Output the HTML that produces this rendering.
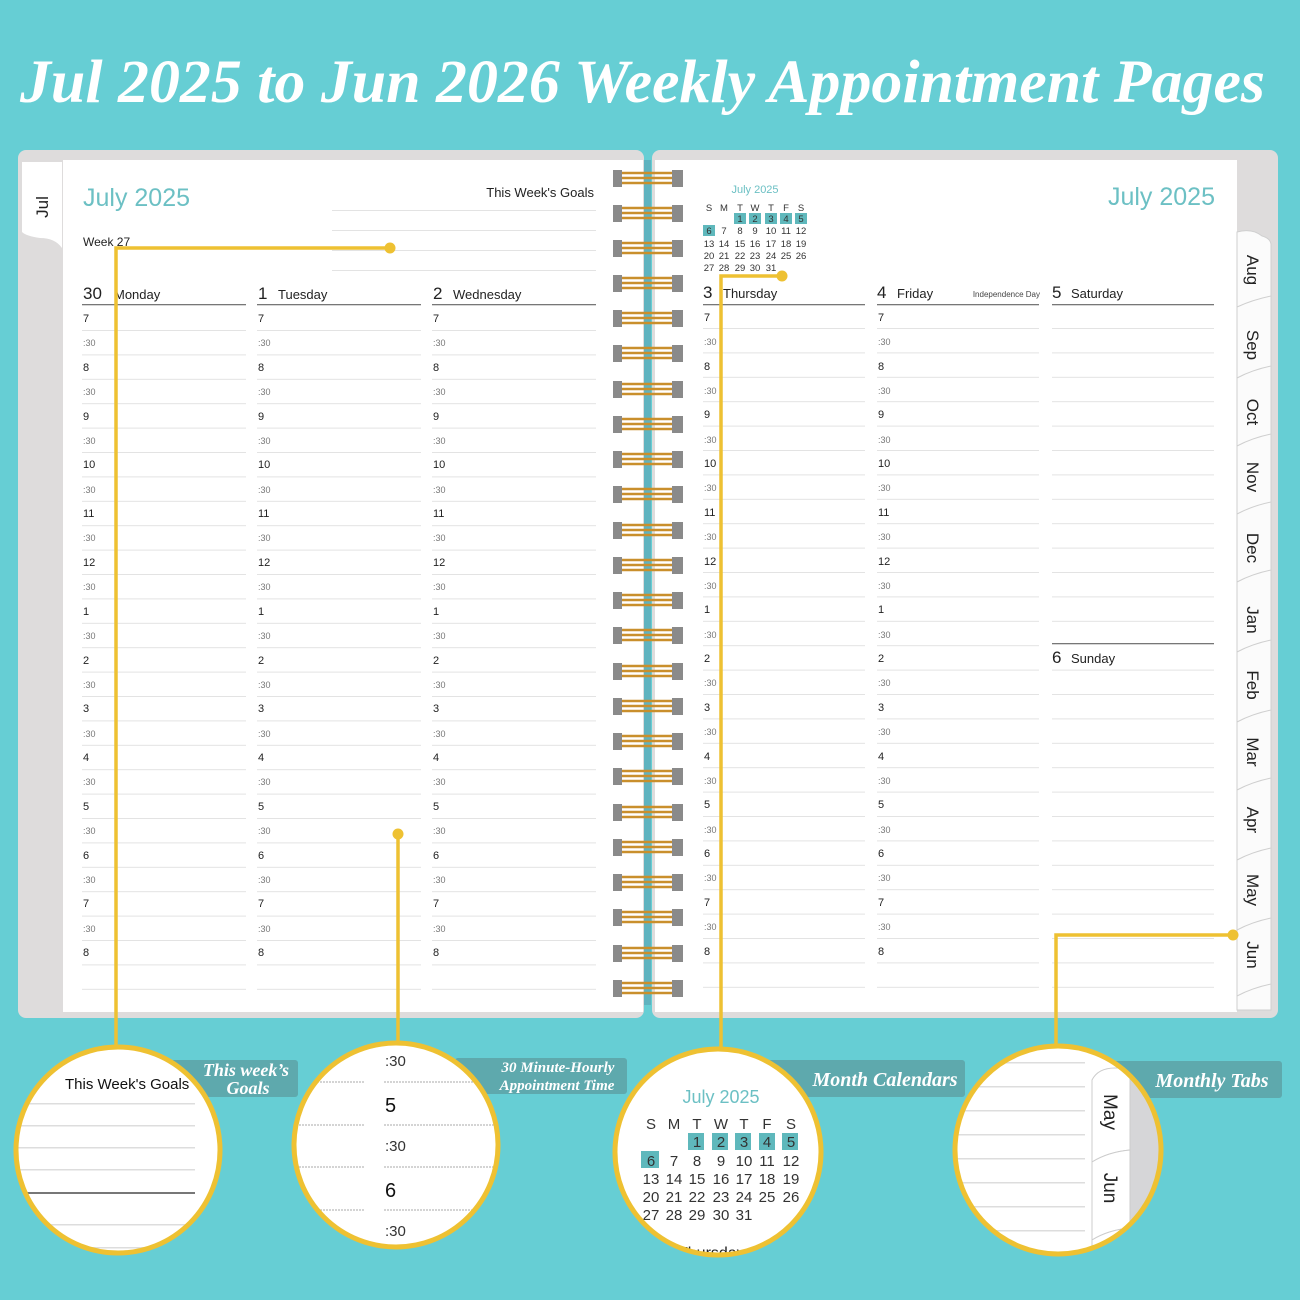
<!DOCTYPE html>
<html><head><meta charset="utf-8"><style>
html,body{margin:0;padding:0;background:#66ced4;}
svg{display:block}
.h{font:11px "Liberation Sans",sans-serif;fill:#222}
.m{font:9px "Liberation Sans",sans-serif;fill:#777}
.d{font:14px "Liberation Sans",sans-serif;fill:#222}
.dn{font:17px "Liberation Sans",sans-serif;fill:#222}
.cal{font:9.5px "Liberation Sans",sans-serif;fill:#333;text-anchor:middle}
.tab{font:17px "Liberation Sans",sans-serif;fill:#222}
.lab{font:italic bold 19px "Liberation Serif",serif;fill:#fff}
</style></head><body>
<svg width="1300" height="1300" viewBox="0 0 1300 1300" xmlns="http://www.w3.org/2000/svg">
<defs>
<pattern id="ln" x="0" y="330" width="10" height="24.4" patternUnits="userSpaceOnUse"><rect x="0" y="0" width="10" height="1" fill="#e3e3e3"/></pattern>
<pattern id="ln2" x="0" y="328" width="10" height="24.4" patternUnits="userSpaceOnUse"><rect x="0" y="0" width="10" height="1" fill="#e3e3e3"/></pattern>
</defs>
<rect width="1300" height="1300" fill="#66ced4"/>
<text x="20" y="102" textLength="1245" lengthAdjust="spacingAndGlyphs" style="font:italic bold 61px 'Liberation Serif',serif;fill:#fff">Jul 2025 to Jun 2026 Weekly Appointment Pages</text>

<!-- left page -->
<rect x="18" y="150" width="626" height="868" rx="8" fill="#dedcdc"/>
<rect x="63" y="160" width="580" height="852" fill="#fff"/>
<path d="M22 162 H62 V248 Q55 238 40 238 Q26 236 22 232 Z" fill="#fff"/>
<text class="tab" transform="translate(48,207) rotate(-90)" x="0" y="0" text-anchor="middle">Jul</text>
<text x="83" y="206" style="font:25px 'Liberation Sans',sans-serif;fill:#6cc0c4">July 2025</text>
<text x="83" y="246" style="font:12px 'Liberation Sans',sans-serif;fill:#222">Week 27</text>
<text x="594" y="197" text-anchor="end" style="font:13px 'Liberation Sans',sans-serif;fill:#222">This Week's Goals</text>
<g fill="#e3e3e3"><rect x="332" y="210" width="264" height="1"/><rect x="332" y="230" width="264" height="1"/><rect x="332" y="250" width="264" height="1"/><rect x="332" y="270" width="264" height="1"/></g>

<text class="dn" x="83" y="299">30</text><text class="d" x="114" y="299" style="font-size:13px">Monday</text>
<text class="dn" x="258" y="299">1</text><text class="d" x="278" y="299" style="font-size:13px">Tuesday</text>
<text class="dn" x="433" y="299">2</text><text class="d" x="453" y="299" style="font-size:13px">Wednesday</text>
<g fill="#777"><rect x="82" y="304" width="164" height="1.3"/><rect x="257" y="304" width="164" height="1.3"/><rect x="432" y="304" width="164" height="1.3"/></g>
<rect x="82" y="329" width="164" height="662" fill="url(#ln)"/>
<rect x="257" y="329" width="164" height="662" fill="url(#ln)"/>
<rect x="432" y="329" width="164" height="662" fill="url(#ln)"/>

<text><tspan class="h" x="83" y="322">7</tspan><tspan class="m" x="83" y="346">:30</tspan><tspan class="h" x="83" y="371">8</tspan><tspan class="m" x="83" y="395">:30</tspan><tspan class="h" x="83" y="420">9</tspan><tspan class="m" x="83" y="444">:30</tspan><tspan class="h" x="83" y="468">10</tspan><tspan class="m" x="83" y="493">:30</tspan><tspan class="h" x="83" y="517">11</tspan><tspan class="m" x="83" y="541">:30</tspan><tspan class="h" x="83" y="566">12</tspan><tspan class="m" x="83" y="590">:30</tspan><tspan class="h" x="83" y="615">1</tspan><tspan class="m" x="83" y="639">:30</tspan><tspan class="h" x="83" y="664">2</tspan><tspan class="m" x="83" y="688">:30</tspan><tspan class="h" x="83" y="712">3</tspan><tspan class="m" x="83" y="737">:30</tspan><tspan class="h" x="83" y="761">4</tspan><tspan class="m" x="83" y="785">:30</tspan><tspan class="h" x="83" y="810">5</tspan><tspan class="m" x="83" y="834">:30</tspan><tspan class="h" x="83" y="859">6</tspan><tspan class="m" x="83" y="883">:30</tspan><tspan class="h" x="83" y="907">7</tspan><tspan class="m" x="83" y="932">:30</tspan><tspan class="h" x="83" y="956">8</tspan></text>
<text><tspan class="h" x="258" y="322">7</tspan><tspan class="m" x="258" y="346">:30</tspan><tspan class="h" x="258" y="371">8</tspan><tspan class="m" x="258" y="395">:30</tspan><tspan class="h" x="258" y="420">9</tspan><tspan class="m" x="258" y="444">:30</tspan><tspan class="h" x="258" y="468">10</tspan><tspan class="m" x="258" y="493">:30</tspan><tspan class="h" x="258" y="517">11</tspan><tspan class="m" x="258" y="541">:30</tspan><tspan class="h" x="258" y="566">12</tspan><tspan class="m" x="258" y="590">:30</tspan><tspan class="h" x="258" y="615">1</tspan><tspan class="m" x="258" y="639">:30</tspan><tspan class="h" x="258" y="664">2</tspan><tspan class="m" x="258" y="688">:30</tspan><tspan class="h" x="258" y="712">3</tspan><tspan class="m" x="258" y="737">:30</tspan><tspan class="h" x="258" y="761">4</tspan><tspan class="m" x="258" y="785">:30</tspan><tspan class="h" x="258" y="810">5</tspan><tspan class="m" x="258" y="834">:30</tspan><tspan class="h" x="258" y="859">6</tspan><tspan class="m" x="258" y="883">:30</tspan><tspan class="h" x="258" y="907">7</tspan><tspan class="m" x="258" y="932">:30</tspan><tspan class="h" x="258" y="956">8</tspan></text>
<text><tspan class="h" x="433" y="322">7</tspan><tspan class="m" x="433" y="346">:30</tspan><tspan class="h" x="433" y="371">8</tspan><tspan class="m" x="433" y="395">:30</tspan><tspan class="h" x="433" y="420">9</tspan><tspan class="m" x="433" y="444">:30</tspan><tspan class="h" x="433" y="468">10</tspan><tspan class="m" x="433" y="493">:30</tspan><tspan class="h" x="433" y="517">11</tspan><tspan class="m" x="433" y="541">:30</tspan><tspan class="h" x="433" y="566">12</tspan><tspan class="m" x="433" y="590">:30</tspan><tspan class="h" x="433" y="615">1</tspan><tspan class="m" x="433" y="639">:30</tspan><tspan class="h" x="433" y="664">2</tspan><tspan class="m" x="433" y="688">:30</tspan><tspan class="h" x="433" y="712">3</tspan><tspan class="m" x="433" y="737">:30</tspan><tspan class="h" x="433" y="761">4</tspan><tspan class="m" x="433" y="785">:30</tspan><tspan class="h" x="433" y="810">5</tspan><tspan class="m" x="433" y="834">:30</tspan><tspan class="h" x="433" y="859">6</tspan><tspan class="m" x="433" y="883">:30</tspan><tspan class="h" x="433" y="907">7</tspan><tspan class="m" x="433" y="932">:30</tspan><tspan class="h" x="433" y="956">8</tspan></text>

<!-- right page -->
<rect x="652" y="150" width="626" height="868" rx="8" fill="#dedcdc"/>
<rect x="655" y="160" width="582" height="852" fill="#fff"/>
<g fill="#fbfbfb" stroke="#cfcfcf" stroke-width="1">
<path d="M1237 232 Q1252 228 1262 236 Q1270 238 1271 244 V300 Q1260 300 1250 308 Q1242 312 1237 312 Z"/>
<path d="M1237 307 Q1252 300 1271 296 V368 Q1255 372 1237 380 Z"/>
<path d="M1237 378 Q1252 370 1271 366 V436 Q1255 440 1237 448 Z"/>
<path d="M1237 446 Q1252 438 1271 434 V504 Q1255 508 1237 516 Z"/>
<path d="M1237 514 Q1252 506 1271 502 V572 Q1255 576 1237 584 Z"/>
<path d="M1237 582 Q1252 574 1271 570 V642 Q1255 646 1237 654 Z"/>
<path d="M1237 652 Q1252 644 1271 640 V712 Q1255 716 1237 724 Z"/>
<path d="M1237 722 Q1252 714 1271 710 V780 Q1255 784 1237 792 Z"/>
<path d="M1237 790 Q1252 782 1271 778 V850 Q1255 854 1237 862 Z"/>
<path d="M1237 860 Q1252 852 1271 848 V920 Q1255 924 1237 932 Z"/>
<path d="M1237 930 Q1252 922 1271 918 V986 Q1255 990 1237 998 Z"/>
<path d="M1237 996 Q1252 988 1271 984 V1010 H1237 Z"/>
</g>
<g class="tab">
<text transform="translate(1247,270) rotate(90)" text-anchor="middle">Aug</text>
<text transform="translate(1247,345) rotate(90)" text-anchor="middle">Sep</text>
<text transform="translate(1247,412) rotate(90)" text-anchor="middle">Oct</text>
<text transform="translate(1247,477) rotate(90)" text-anchor="middle">Nov</text>
<text transform="translate(1247,548) rotate(90)" text-anchor="middle">Dec</text>
<text transform="translate(1247,620) rotate(90)" text-anchor="middle">Jan</text>
<text transform="translate(1247,685) rotate(90)" text-anchor="middle">Feb</text>
<text transform="translate(1247,752) rotate(90)" text-anchor="middle">Mar</text>
<text transform="translate(1247,820) rotate(90)" text-anchor="middle">Apr</text>
<text transform="translate(1247,890) rotate(90)" text-anchor="middle">May</text>
<text transform="translate(1247,955) rotate(90)" text-anchor="middle">Jun</text>
</g>
<text x="1215" y="205" text-anchor="end" style="font:25px 'Liberation Sans',sans-serif;fill:#6cc0c4">July 2025</text>

<!-- mini calendar -->
<text x="755" y="193" text-anchor="middle" style="font:11px 'Liberation Sans',sans-serif;fill:#6cc0c4">July 2025</text>
<g fill="#5fb8bc"><rect x="734" y="213" width="12" height="11"/><rect x="749" y="213" width="12" height="11"/><rect x="765" y="213" width="12" height="11"/><rect x="780" y="213" width="12" height="11"/><rect x="795" y="213" width="12" height="11"/><rect x="703" y="225" width="12" height="11"/></g>
<g class="cal">
<text y="211"><tspan x="709">S</tspan><tspan x="724">M</tspan><tspan x="740">T</tspan><tspan x="755">W</tspan><tspan x="771">T</tspan><tspan x="786">F</tspan><tspan x="801">S</tspan></text>
<text y="222"><tspan x="740">1</tspan><tspan x="755">2</tspan><tspan x="771">3</tspan><tspan x="786">4</tspan><tspan x="801">5</tspan></text>
<text y="234"><tspan x="709">6</tspan><tspan x="724">7</tspan><tspan x="740">8</tspan><tspan x="755">9</tspan><tspan x="771">10</tspan><tspan x="786">11</tspan><tspan x="801">12</tspan></text>
<text y="247"><tspan x="709">13</tspan><tspan x="724">14</tspan><tspan x="740">15</tspan><tspan x="755">16</tspan><tspan x="771">17</tspan><tspan x="786">18</tspan><tspan x="801">19</tspan></text>
<text y="259"><tspan x="709">20</tspan><tspan x="724">21</tspan><tspan x="740">22</tspan><tspan x="755">23</tspan><tspan x="771">24</tspan><tspan x="786">25</tspan><tspan x="801">26</tspan></text>
<text y="271"><tspan x="709">27</tspan><tspan x="724">28</tspan><tspan x="740">29</tspan><tspan x="755">30</tspan><tspan x="771">31</tspan></text>
</g>

<text class="dn" x="703" y="298">3</text><text class="d" x="723" y="298" style="font-size:13px">Thursday</text>
<text class="dn" x="877" y="298">4</text><text class="d" x="897" y="298" style="font-size:13px">Friday</text>
<text x="1040" y="297" text-anchor="end" style="font:8px 'Liberation Sans',sans-serif;fill:#444">Independence Day</text>
<text class="dn" x="1052" y="298">5</text><text class="d" x="1071" y="298" style="font-size:13px">Saturday</text>
<text class="dn" x="1052" y="663">6</text><text class="d" x="1071" y="663" style="font-size:13px">Sunday</text>
<g fill="#777"><rect x="703" y="304" width="162" height="1.3"/><rect x="877" y="304" width="162" height="1.3"/><rect x="1052" y="304" width="162" height="1.3"/><rect x="1052" y="643" width="162" height="1.3"/></g>
<rect x="703" y="327" width="162" height="662" fill="url(#ln2)"/>
<rect x="877" y="327" width="162" height="662" fill="url(#ln2)"/>
<rect x="1052" y="327" width="162" height="300" fill="url(#ln2)"/>
<rect x="1052" y="668" width="162" height="321" fill="url(#ln2)"/>

<text><tspan class="h" x="704" y="321">7</tspan><tspan class="m" x="704" y="345">:30</tspan><tspan class="h" x="704" y="370">8</tspan><tspan class="m" x="704" y="394">:30</tspan><tspan class="h" x="704" y="418">9</tspan><tspan class="m" x="704" y="443">:30</tspan><tspan class="h" x="704" y="467">10</tspan><tspan class="m" x="704" y="491">:30</tspan><tspan class="h" x="704" y="516">11</tspan><tspan class="m" x="704" y="540">:30</tspan><tspan class="h" x="704" y="565">12</tspan><tspan class="m" x="704" y="589">:30</tspan><tspan class="h" x="704" y="613">1</tspan><tspan class="m" x="704" y="638">:30</tspan><tspan class="h" x="704" y="662">2</tspan><tspan class="m" x="704" y="686">:30</tspan><tspan class="h" x="704" y="711">3</tspan><tspan class="m" x="704" y="735">:30</tspan><tspan class="h" x="704" y="760">4</tspan><tspan class="m" x="704" y="784">:30</tspan><tspan class="h" x="704" y="808">5</tspan><tspan class="m" x="704" y="833">:30</tspan><tspan class="h" x="704" y="857">6</tspan><tspan class="m" x="704" y="881">:30</tspan><tspan class="h" x="704" y="906">7</tspan><tspan class="m" x="704" y="930">:30</tspan><tspan class="h" x="704" y="955">8</tspan></text>
<text><tspan class="h" x="878" y="321">7</tspan><tspan class="m" x="878" y="345">:30</tspan><tspan class="h" x="878" y="370">8</tspan><tspan class="m" x="878" y="394">:30</tspan><tspan class="h" x="878" y="418">9</tspan><tspan class="m" x="878" y="443">:30</tspan><tspan class="h" x="878" y="467">10</tspan><tspan class="m" x="878" y="491">:30</tspan><tspan class="h" x="878" y="516">11</tspan><tspan class="m" x="878" y="540">:30</tspan><tspan class="h" x="878" y="565">12</tspan><tspan class="m" x="878" y="589">:30</tspan><tspan class="h" x="878" y="613">1</tspan><tspan class="m" x="878" y="638">:30</tspan><tspan class="h" x="878" y="662">2</tspan><tspan class="m" x="878" y="686">:30</tspan><tspan class="h" x="878" y="711">3</tspan><tspan class="m" x="878" y="735">:30</tspan><tspan class="h" x="878" y="760">4</tspan><tspan class="m" x="878" y="784">:30</tspan><tspan class="h" x="878" y="808">5</tspan><tspan class="m" x="878" y="833">:30</tspan><tspan class="h" x="878" y="857">6</tspan><tspan class="m" x="878" y="881">:30</tspan><tspan class="h" x="878" y="906">7</tspan><tspan class="m" x="878" y="930">:30</tspan><tspan class="h" x="878" y="955">8</tspan></text>

<!-- spiral -->
<rect x="644" y="160" width="7" height="845" fill="#5fb3bf"/>
<g fill="none" stroke="#c98f2c" stroke-width="2.6">
<path d="M622 173 H676 M622 178 H676 M622 183 H676"/>
<path d="M622 208 H676 M622 213 H676 M622 218 H676"/>
<path d="M622 243 H676 M622 248 H676 M622 253 H676"/>
<path d="M622 278 H676 M622 283 H676 M622 288 H676"/>
<path d="M622 313 H676 M622 318 H676 M622 323 H676"/>
<path d="M622 348 H676 M622 353 H676 M622 358 H676"/>
<path d="M622 384 H676 M622 389 H676 M622 394 H676"/>
<path d="M622 419 H676 M622 424 H676 M622 429 H676"/>
<path d="M622 454 H676 M622 459 H676 M622 464 H676"/>
<path d="M622 489 H676 M622 494 H676 M622 499 H676"/>
<path d="M622 525 H676 M622 530 H676 M622 535 H676"/>
<path d="M622 560 H676 M622 565 H676 M622 570 H676"/>
<path d="M622 595 H676 M622 600 H676 M622 605 H676"/>
<path d="M622 630 H676 M622 635 H676 M622 640 H676"/>
<path d="M622 666 H676 M622 671 H676 M622 676 H676"/>
<path d="M622 701 H676 M622 706 H676 M622 711 H676"/>
<path d="M622 736 H676 M622 741 H676 M622 746 H676"/>
<path d="M622 771 H676 M622 776 H676 M622 781 H676"/>
<path d="M622 807 H676 M622 812 H676 M622 817 H676"/>
<path d="M622 842 H676 M622 847 H676 M622 852 H676"/>
<path d="M622 877 H676 M622 882 H676 M622 887 H676"/>
<path d="M622 912 H676 M622 917 H676 M622 922 H676"/>
<path d="M622 948 H676 M622 953 H676 M622 958 H676"/>
<path d="M622 983 H676 M622 988 H676 M622 993 H676"/>
</g>
<g fill="#8a8a8a">
<rect x="613" y="170" width="9" height="17"/><rect x="672" y="170" width="11" height="17"/>
<rect x="613" y="205" width="9" height="17"/><rect x="672" y="205" width="11" height="17"/>
<rect x="613" y="240" width="9" height="17"/><rect x="672" y="240" width="11" height="17"/>
<rect x="613" y="275" width="9" height="17"/><rect x="672" y="275" width="11" height="17"/>
<rect x="613" y="310" width="9" height="17"/><rect x="672" y="310" width="11" height="17"/>
<rect x="613" y="345" width="9" height="17"/><rect x="672" y="345" width="11" height="17"/>
<rect x="613" y="381" width="9" height="17"/><rect x="672" y="381" width="11" height="17"/>
<rect x="613" y="416" width="9" height="17"/><rect x="672" y="416" width="11" height="17"/>
<rect x="613" y="451" width="9" height="17"/><rect x="672" y="451" width="11" height="17"/>
<rect x="613" y="486" width="9" height="17"/><rect x="672" y="486" width="11" height="17"/>
<rect x="613" y="522" width="9" height="17"/><rect x="672" y="522" width="11" height="17"/>
<rect x="613" y="557" width="9" height="17"/><rect x="672" y="557" width="11" height="17"/>
<rect x="613" y="592" width="9" height="17"/><rect x="672" y="592" width="11" height="17"/>
<rect x="613" y="627" width="9" height="17"/><rect x="672" y="627" width="11" height="17"/>
<rect x="613" y="663" width="9" height="17"/><rect x="672" y="663" width="11" height="17"/>
<rect x="613" y="698" width="9" height="17"/><rect x="672" y="698" width="11" height="17"/>
<rect x="613" y="733" width="9" height="17"/><rect x="672" y="733" width="11" height="17"/>
<rect x="613" y="768" width="9" height="17"/><rect x="672" y="768" width="11" height="17"/>
<rect x="613" y="804" width="9" height="17"/><rect x="672" y="804" width="11" height="17"/>
<rect x="613" y="839" width="9" height="17"/><rect x="672" y="839" width="11" height="17"/>
<rect x="613" y="874" width="9" height="17"/><rect x="672" y="874" width="11" height="17"/>
<rect x="613" y="909" width="9" height="17"/><rect x="672" y="909" width="11" height="17"/>
<rect x="613" y="945" width="9" height="17"/><rect x="672" y="945" width="11" height="17"/>
<rect x="613" y="980" width="9" height="17"/><rect x="672" y="980" width="11" height="17"/>
</g>

<!-- callout lines -->
<g fill="none" stroke="#eec132" stroke-width="3.5">
<path d="M390 248 H116 V1047"/>
<path d="M398 834 V1043"/>
<path d="M782 276 H721 V1048"/>
<path d="M1233 935 H1056 V1046"/>
</g>
<g fill="#eec132"><circle cx="390" cy="248" r="5.5"/><circle cx="398" cy="834" r="5.5"/><circle cx="782" cy="276" r="5.5"/><circle cx="1233" cy="935" r="5.5"/></g>

<!-- label boxes -->
<g fill="#5ea9ad">
<rect x="170" y="1060" width="128" height="37" rx="3"/>
<rect x="455" y="1058" width="172" height="36" rx="3"/>
<rect x="765" y="1060" width="200" height="37" rx="3"/>
<rect x="1110" y="1061" width="172" height="37" rx="3"/>
</g>
<text class="lab" x="246" y="1076" text-anchor="middle" style="font-size:18px">This week’s</text>
<text class="lab" x="248" y="1094" text-anchor="middle" style="font-size:18px">Goals</text>
<text class="lab" x="558" y="1072" text-anchor="middle" style="font-size:15px">30 Minute-Hourly</text>
<text class="lab" x="557" y="1090" text-anchor="middle" style="font-size:15px">Appointment Time</text>
<text class="lab" x="885" y="1086" text-anchor="middle" style="font-size:20px">Month Calendars</text>
<text class="lab" x="1212" y="1087" text-anchor="middle" style="font-size:20px">Monthly Tabs</text>

<!-- circle 1 -->
<clipPath id="c1"><ellipse cx="118" cy="1150" rx="102" ry="103"/></clipPath>
<ellipse cx="118" cy="1150" rx="102" ry="103" fill="#fff"/>
<g clip-path="url(#c1)">
<text x="65" y="1089" style="font:15px 'Liberation Sans',sans-serif;fill:#111">This Week's Goals</text>
<g fill="#ddd"><rect x="15" y="1103" width="180" height="1.5"/><rect x="15" y="1125" width="180" height="1.5"/><rect x="15" y="1147" width="180" height="1.5"/><rect x="15" y="1169" width="180" height="1.5"/><rect x="15" y="1224" width="180" height="1.5"/><rect x="15" y="1247" width="180" height="1.5"/></g>
<rect x="15" y="1192" width="180" height="2" fill="#777"/>
</g>
<ellipse cx="118" cy="1150" rx="102" ry="103" fill="none" stroke="#eec132" stroke-width="5"/>

<!-- circle 2 -->
<clipPath id="c2"><ellipse cx="396" cy="1145" rx="102" ry="102"/></clipPath>
<ellipse cx="396" cy="1145" rx="102" ry="102" fill="#fff"/>
<g clip-path="url(#c2)">
<g style="font:15px 'Liberation Sans',sans-serif;fill:#333"><text x="385" y="1066">:30</text><text x="385" y="1151">:30</text><text x="385" y="1236">:30</text></g>
<g style="font:20px 'Liberation Sans',sans-serif;fill:#111"><text x="385" y="1112">5</text><text x="385" y="1197">6</text></g>
<g fill="none" stroke="#aaa" stroke-width="1" stroke-dasharray="2 1"><path d="M290 1082 H365 M384 1082 H500 M290 1125 H365 M384 1125 H500 M290 1167 H365 M384 1167 H500 M290 1210 H365 M384 1210 H500"/></g>
</g>
<ellipse cx="396" cy="1145" rx="102" ry="102" fill="none" stroke="#eec132" stroke-width="5"/>

<!-- circle 3 -->
<clipPath id="c3"><ellipse cx="718" cy="1152" rx="103" ry="103"/></clipPath>
<ellipse cx="718" cy="1152" rx="103" ry="103" fill="#fff"/>
<g clip-path="url(#c3)">
<text x="721" y="1103" text-anchor="middle" style="font:18px 'Liberation Sans',sans-serif;fill:#6cc0c4">July 2025</text>
<g fill="#5fb8bc"><rect x="688" y="1133" width="16" height="17"/><rect x="712" y="1133" width="16" height="17"/><rect x="735" y="1133" width="16" height="17"/><rect x="759" y="1133" width="16" height="17"/><rect x="782" y="1133" width="16" height="17"/><rect x="641" y="1151" width="18" height="17"/></g>
<g style="font:15px 'Liberation Sans',sans-serif;fill:#333;text-anchor:middle">
<text y="1129"><tspan x="651">S</tspan><tspan x="674">M</tspan><tspan x="697">T</tspan><tspan x="721">W</tspan><tspan x="744">T</tspan><tspan x="767">F</tspan><tspan x="791">S</tspan></text>
<text y="1147"><tspan x="697">1</tspan><tspan x="721">2</tspan><tspan x="744">3</tspan><tspan x="767">4</tspan><tspan x="791">5</tspan></text>
<text y="1166"><tspan x="651">6</tspan><tspan x="674">7</tspan><tspan x="697">8</tspan><tspan x="721">9</tspan><tspan x="744">10</tspan><tspan x="767">11</tspan><tspan x="791">12</tspan></text>
<text y="1184"><tspan x="651">13</tspan><tspan x="674">14</tspan><tspan x="697">15</tspan><tspan x="721">16</tspan><tspan x="744">17</tspan><tspan x="767">18</tspan><tspan x="791">19</tspan></text>
<text y="1202"><tspan x="651">20</tspan><tspan x="674">21</tspan><tspan x="697">22</tspan><tspan x="721">23</tspan><tspan x="744">24</tspan><tspan x="767">25</tspan><tspan x="791">26</tspan></text>
<text y="1220"><tspan x="651">27</tspan><tspan x="674">28</tspan><tspan x="697">29</tspan><tspan x="721">30</tspan><tspan x="744">31</tspan></text>
</g>
<text x="678" y="1258" style="font:16px 'Liberation Sans',sans-serif;fill:#222">Thursday</text>
</g>
<ellipse cx="718" cy="1152" rx="103" ry="103" fill="none" stroke="#eec132" stroke-width="5"/>

<!-- circle 4 -->
<clipPath id="c4"><ellipse cx="1058" cy="1150" rx="103" ry="104"/></clipPath>
<ellipse cx="1058" cy="1150" rx="103" ry="104" fill="#fff"/>
<g clip-path="url(#c4)">
<g fill="#ddd"><rect x="950" y="1062" width="135" height="1.5"/><rect x="950" y="1086" width="135" height="1.5"/><rect x="950" y="1110" width="135" height="1.5"/><rect x="950" y="1134" width="135" height="1.5"/><rect x="950" y="1158" width="135" height="1.5"/><rect x="950" y="1182" width="135" height="1.5"/><rect x="950" y="1206" width="135" height="1.5"/><rect x="950" y="1230" width="135" height="1.5"/></g>
<rect x="1130" y="1050" width="40" height="210" fill="#d6d6d8"/>
<g fill="#fff" stroke="#ccc"><path d="M1092 1080 Q1098 1068 1115 1068 H1130 V1150 Q1108 1152 1092 1162 Z"/><path d="M1092 1162 Q1108 1152 1130 1150 V1228 Q1108 1230 1092 1240 Z"/><path d="M1092 1240 Q1108 1230 1130 1228 V1260 H1092 Z"/></g>
<g style="font:19px 'Liberation Sans',sans-serif;fill:#222"><text transform="translate(1104,1112) rotate(90)" text-anchor="middle">May</text><text transform="translate(1104,1188) rotate(90)" text-anchor="middle">Jun</text></g>
</g>
<ellipse cx="1058" cy="1150" rx="103" ry="104" fill="none" stroke="#eec132" stroke-width="5"/>
</svg>
</body></html>
